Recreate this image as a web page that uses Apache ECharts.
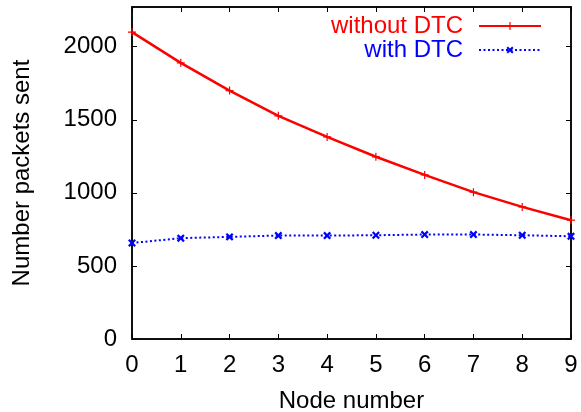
<!DOCTYPE html>
<html>
<head>
<meta charset="utf-8">
<script src="https://cdn.jsdelivr.net/npm/echarts@6/dist/echarts.min.js"></script>
<style>
  html, body { margin: 0; padding: 0; background: #fff; }
  #main { width: 581px; height: 412px; }
</style>
</head>
<body>
<div id="main"></div>
<script>
// node numbers on the x axis
const nodes = [0, 1, 2, 3, 4, 5, 6, 7, 8, 9]
// packets sent per node
const withoutDTC = [2100, 1890, 1700, 1527, 1383, 1247, 1123, 1005, 904, 813]
const withDTC = [657, 690, 699, 708, 708, 710, 715, 715, 710, 703]
const yTicks = [0, 500, 1000, 1500, 2000]

const font = 'Liberation Sans'
const plusPath = 'path://M-0.6,-4 L0.6,-4 L0.6,-0.6 L4,-0.6 L4,0.6 L0.6,0.6 L0.6,4 L-0.6,4 L-0.6,0.6 L-4,0.6 L-4,-0.6 L-0.6,-0.6 Z'
const crossPath = 'path://M-1,-4 L1,-4 L1,-1 L4,-1 L4,1 L1,1 L1,4 L-1,4 L-1,1 L-4,1 L-4,-1 L-1,-1 Z'

const chart = echarts.init(document.getElementById('main'))

// fresh objects for every axis
const frameLine = () => ({ show: true, onZero: false, lineStyle: { color: '#000', width: 1.5 } })
const tick = (values) => ({ show: true, inside: true, length: 5, customValues: values, lineStyle: { color: '#000', width: 1 } })
// mirror axes keep their labels but make them invisible
const hiddenLabel = () => ({ show: true, color: 'rgba(0,0,0,0)', fontSize: 10 })

chart.setOption({
  animation: false,
  grid: {
    left: 132, right: 10, top: 7, bottom: 73,
    outerBoundsMode: 'none',
    show: true,
    borderColor: '#000',
    borderWidth: 1.5
  },
  legend: {
    orient: 'vertical',
    right: 34,
    top: 9,
    align: 'right',
    itemWidth: 62,
    itemHeight: 10,
    itemGap: 0,
    textStyle: { fontSize: 24, lineHeight: 23, fontFamily: font, padding: [0, 11, 0, 0] },
    data: [
      { name: 'without DTC', textStyle: { color: '#ff0000' } },
      { name: 'with DTC', textStyle: { color: '#0000ff' } }
    ]
  },
  xAxis: [
    {
      type: 'value',
      min: 0,
      max: 9,
      interval: 1,
      name: 'Node number',
      nameLocation: 'middle',
      nameGap: 50,
      nameTextStyle: { fontSize: 24, color: '#000', fontFamily: font },
      axisLine: frameLine(),
      axisTick: tick(nodes),
      axisLabel: { fontSize: 24, color: '#000', margin: 14, fontFamily: font },
      splitLine: { show: false }
    },
    {
      type: 'value',
      position: 'top',
      min: 0,
      max: 9,
      interval: 1,
      axisLine: frameLine(),
      axisTick: tick(nodes),
      axisLabel: hiddenLabel(),
      splitLine: { show: false }
    }
  ],
  yAxis: [
    {
      type: 'value',
      min: 0,
      max: 2272,
      interval: 500,
      name: 'Number packets sent',
      nameLocation: 'middle',
      nameGap: 98,
      nameTextStyle: { fontSize: 24, color: '#000', fontFamily: font },
      axisLine: frameLine(),
      axisTick: tick(yTicks),
      axisLabel: {
        fontSize: 24,
        color: '#000',
        margin: 15,
        fontFamily: font,
        customValues: yTicks,
        formatter: v => String(v)
      },
      splitLine: { show: false }
    },
    {
      type: 'value',
      position: 'right',
      min: 0,
      max: 2272,
      interval: 500,
      axisLine: frameLine(),
      axisTick: tick(yTicks),
      axisLabel: hiddenLabel(),
      splitLine: { show: false }
    }
  ],
  series: [
    {
      name: 'without DTC',
      type: 'line',
      data: nodes.map((n, i) => [n, withoutDTC[i]]),
      color: '#ff0000',
      lineStyle: { width: 2.5, color: '#ff0000' },
      symbol: plusPath,
      symbolSize: 8,
      showAllSymbol: true
    },
    {
      name: 'with DTC',
      type: 'line',
      data: nodes.map((n, i) => [n, withDTC[i]]),
      color: '#0000ff',
      lineStyle: { width: 2, color: '#0000ff', type: [2, 2.5] },
      symbol: crossPath,
      symbolRotate: 45,
      symbolSize: 9,
      showAllSymbol: true
    }
  ]
})
</script>
</body>
</html>
